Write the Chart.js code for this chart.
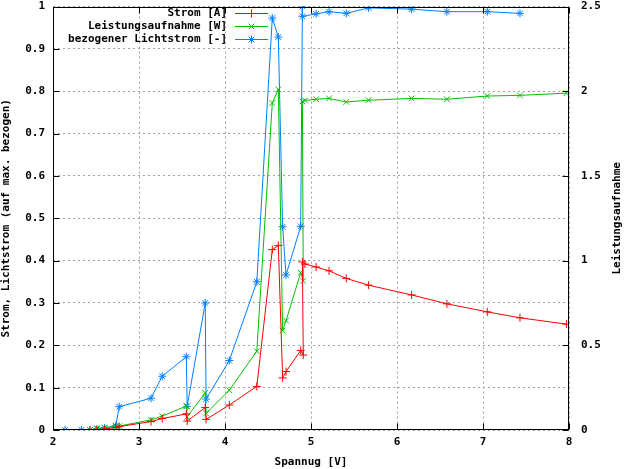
<!DOCTYPE html>
<html>
<head>
<meta charset="utf-8">
<script src="https://cdn.jsdelivr.net/npm/chart.js@4/dist/chart.umd.min.js"></script>
<style>
  body { margin: 0; background: #fff; }
  #wrap { width: 624px; height: 469px; }
</style>
</head>
<body>
<div id="wrap"><canvas id="lampChart" width="624" height="469"></canvas></div>
<script>
// Spannung [V] for Strom and Leistung readings
const spannung = [2.43, 2.51, 2.60, 2.73, 2.77, 3.14, 3.27, 3.55, 3.56, 3.77, 3.78, 4.05, 4.37, 4.55, 4.62,
  4.67, 4.71, 4.88, 4.91, 4.90, 4.93, 5.06, 5.21, 5.41, 5.67, 6.17, 6.58, 7.05, 7.43, 7.97];
const strom = [0.0, 0.0, 0.002, 0.006, 0.008, 0.020, 0.027, 0.038, 0.021, 0.053, 0.025, 0.059, 0.103, 0.426, 0.436,
  0.123, 0.138, 0.188, 0.177, 0.397, 0.392, 0.385, 0.376, 0.358, 0.342, 0.319, 0.298, 0.279, 0.265, 0.250];
const leistung = [0.0, 0.010, 0.015, 0.020, 0.023, 0.060, 0.082, 0.141, 0.078, 0.219, 0.098, 0.235, 0.465, 1.931, 2.011,
  0.587, 0.646, 0.929, 0.880, 1.940, 1.946, 1.953, 1.958, 1.937, 1.947, 1.958, 1.953, 1.972, 1.976, 1.989];

// Lichtstrom has its own voltage list
const spannungLicht = [2.14, 2.33, 2.43, 2.51, 2.60, 2.73, 2.77, 3.14, 3.27, 3.55, 3.56, 3.77, 3.78, 4.05, 4.37,
  4.55, 4.62, 4.67, 4.71, 4.88, 4.90, 4.90, 5.06, 5.21, 5.41, 5.67, 6.17, 6.58, 7.05, 7.43];
const lichtstrom = [0.0, 0.0, 0.0, 0.002, 0.005, 0.010, 0.055, 0.075, 0.127, 0.173, 0.056, 0.300, 0.073, 0.164, 0.350,
  0.973, 0.928, 0.480, 0.366, 0.481, 1.0, 0.977, 0.983, 0.988, 0.984, 0.997, 0.994, 0.988, 0.988, 0.984];

const xTicks = [2, 3, 4, 5, 6, 7, 8];
const legendLabels = ['Strom [A]', 'Leistungsaufnahme [W]', 'bezogener Lichtstrom [-]'];
const y2Title = 'Leistungsaufnahme';

const FONT = 'DejaVu Sans Mono';
const BOLD = 'bold 11px "' + FONT + '"';

function pairs(xs, ys) {
  return xs.map((x, i) => ({ x: x, y: ys[i] }));
}

function fmt(v) {
  return String(Math.round(v * 10) / 10);
}

// gnuplot-ish border, inward ticks, key and y2 label
const gnuplotFrame = {
  id: 'gnuplotFrame',
  afterDraw(chart) {
    const ctx = chart.ctx;
    const a = chart.chartArea;
    const L = Math.round(a.left) + 0.5, R = Math.round(a.right) - 0.5;
    const T = Math.round(a.top) + 0.5, B = Math.round(a.bottom) - 0.5;
    ctx.save();
    ctx.strokeStyle = '#000';
    ctx.lineWidth = 1;
    ctx.strokeRect(L, T, R - L, B - T);

    ctx.beginPath();
    chart.scales.x.ticks.forEach(t => {
      const px = Math.round(chart.scales.x.getPixelForValue(t.value)) + 0.5;
      ctx.moveTo(px, B); ctx.lineTo(px, B - 6);
      ctx.moveTo(px, T); ctx.lineTo(px, T + 6);
    });
    chart.scales.y.ticks.forEach(t => {
      const py = Math.round(chart.scales.y.getPixelForValue(t.value)) + 0.5;
      ctx.moveTo(L, py); ctx.lineTo(L + 6, py);
    });
    chart.scales.y2.ticks.forEach(t => {
      const py = Math.round(chart.scales.y2.getPixelForValue(t.value)) + 0.5;
      ctx.moveTo(R, py); ctx.lineTo(R - 6, py);
    });
    ctx.stroke();

    // key
    ctx.font = BOLD;
    ctx.textAlign = 'right';
    ctx.textBaseline = 'middle';
    chart.data.datasets.forEach((ds, i) => {
      const y = Math.round(13 + i * 13) + 0.5;
      ctx.fillStyle = '#000';
      ctx.fillText(legendLabels[i], 227, y);
      ctx.strokeStyle = ds.borderColor;
      ctx.fillStyle = ds.borderColor;
      ctx.beginPath();
      ctx.moveTo(235, y); ctx.lineTo(268, y);
      ctx.stroke();
      Chart.helpers.drawPoint(ctx, { pointStyle: ds.pointStyle, radius: 4, borderWidth: 1, rotation: 0 }, 251.5, y);
    });

    // right axis label, reading bottom to top
    ctx.fillStyle = '#000';
    ctx.textAlign = 'center';
    ctx.translate(617, (a.top + a.bottom) / 2);
    ctx.rotate(-Math.PI / 2);
    ctx.fillText(y2Title, 0, 0);
    ctx.restore();
  }
};

const labelFont = { family: FONT, size: 11, weight: 'bold' };
// invisible tick marks give the gap between axis and labels
const gridY = { color: '#a0a0a0', lineWidth: 1, drawTicks: true, tickLength: 8, tickColor: 'rgba(0,0,0,0)' };

new Chart(document.getElementById('lampChart'), {
  type: 'scatter',
  data: {
    datasets: [
      {
        label: legendLabels[0],
        data: pairs(spannung, strom),
        yAxisID: 'y',
        borderColor: '#ff0000',
        backgroundColor: '#ff0000',
        pointStyle: 'cross',
        pointRadius: 4,
        pointBorderWidth: 1,
        borderWidth: 1,
        showLine: true,
        tension: 0
      },
      {
        label: legendLabels[1],
        data: pairs(spannung, leistung),
        yAxisID: 'y2',
        borderColor: '#00c000',
        backgroundColor: '#00c000',
        pointStyle: 'crossRot',
        pointRadius: 4,
        pointBorderWidth: 1,
        borderWidth: 1,
        showLine: true,
        tension: 0
      },
      {
        label: legendLabels[2],
        data: pairs(spannungLicht, lichtstrom),
        yAxisID: 'y',
        borderColor: '#0080ff',
        backgroundColor: '#0080ff',
        pointStyle: 'star',
        pointRadius: 4,
        pointBorderWidth: 1,
        borderWidth: 1,
        showLine: true,
        tension: 0
      }
    ]
  },
  options: {
    responsive: false,
    animation: false,
    layout: { padding: 0 },
    plugins: {
      legend: { display: false },
      tooltip: { enabled: false }
    },
    scales: {
      x: {
        type: 'linear',
        min: 2,
        max: 8,
        afterBuildTicks: s => { s.ticks = xTicks.map(v => ({ value: v })); },
        afterFit: s => { s.height = 39; },
        border: { display: false, dash: [2, 3] },
        grid: { color: '#a0a0a0', lineWidth: 1, drawTicks: true, tickLength: 6, tickColor: 'rgba(0,0,0,0)' },
        ticks: { font: labelFont, color: '#000', padding: 0, maxRotation: 0, callback: v => fmt(v) },
        title: { display: true, text: 'Spannug [V]', color: '#000', font: labelFont, padding: 0 }
      },
      y: {
        position: 'left',
        min: 0,
        max: 1,
        afterFit: s => { s.width = 53; },
        border: { display: false, dash: [2, 3] },
        grid: gridY,
        ticks: { stepSize: 0.1, font: labelFont, color: '#000', padding: 0, callback: v => fmt(v) },
        title: { display: true, text: 'Strom, Lichtstrom (auf max. bezogen)', color: '#000', font: labelFont, padding: 0 }
      },
      y2: {
        position: 'right',
        min: 0,
        max: 2.5,
        afterFit: s => { s.width = 55; },
        border: { display: false },
        grid: { display: true, drawOnChartArea: false, drawTicks: true, tickLength: 12, tickColor: 'rgba(0,0,0,0)' },
        ticks: { stepSize: 0.5, font: labelFont, color: '#000', padding: 0, callback: v => fmt(v) },
        title: { display: false }
      }
    }
  },
  plugins: [gnuplotFrame]
});
</script>
</body>
</html>
